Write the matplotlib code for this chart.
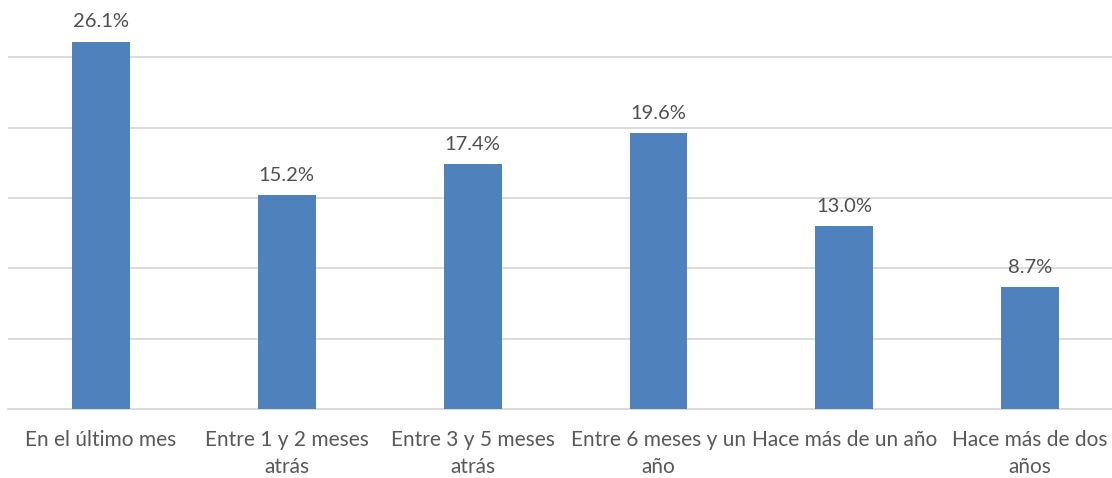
import matplotlib
matplotlib.use("Agg")
import matplotlib.pyplot as plt

categories = ["En el último mes", "Entre 1 y 2 meses\natrás", "Entre 3 y 5 meses\natrás",
              "Entre 6 meses y un\naño", "Hace más de un año", "Hace más de dos\naños"]
values = [26.1, 15.2, 17.4, 19.6, 13.0, 8.7]
yticks = [0, 5, 10, 15, 20, 25]

plt.rcParams['font.family'] = ['Lato', 'DejaVu Sans']
W, H = 1112, 478
fig = plt.figure(figsize=(W/100, H/100), dpi=100)
ax = fig.add_axes([8/W, (H-409.3)/H, (W-8)/W, 409.3/H])

x = list(range(len(categories)))
bars = ax.bar(x, values, width=0.312, color="#4F81BD", zorder=3)
ax.set_xlim(-0.5, 5.44)
ax.set_ylim(0, 29.05)
ax.set_yticks(yticks)
ax.yaxis.grid(True, color="#d9d9d9", linewidth=1.3, zorder=0)
ax.tick_params(axis='y', left=False, labelleft=False)
ax.tick_params(axis='x', bottom=False, pad=11.5)
ax.set_xticks(x)
ax.set_xticklabels(categories, fontsize=15, color="#595959", linespacing=1.45)
for s in ["top", "right", "left"]:
    ax.spines[s].set_visible(False)
ax.spines["bottom"].set_color("#d9d9d9")
ax.spines["bottom"].set_linewidth(1.3)

for xi, v in zip(x, values):
    ax.annotate(f"{v:.1f}%", (xi, v), xytext=(0, 8), textcoords="offset points",
                ha="center", va="bottom", fontsize=14.5, color="#505050")

fig.savefig("out.png", dpi=100)
